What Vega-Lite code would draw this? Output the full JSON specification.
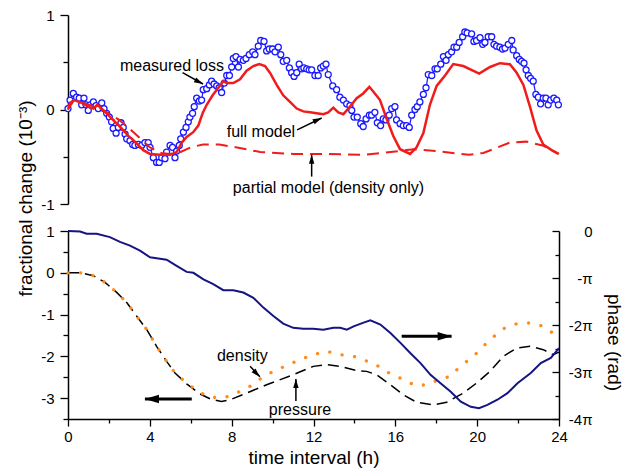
{
  "$schema": "https://vega.github.io/schema/vega-lite/v6.json",
  "width": 491,
  "height": 404,
  "autosize": {"type": "none"},
  "padding": {"left": 68, "top": 15, "right": 64, "bottom": 54},
  "config": {
    "font": "Liberation Sans",
    "view": {"stroke": null},
    "axis": {
      "grid": false,
      "domainColor": "black",
      "domainWidth": 1.5,
      "tickColor": "black",
      "tickWidth": 1.3,
      "labelColor": "black",
      "labelFont": "Liberation Sans",
      "labelFontSize": 15,
      "labelFlush": false,
      "labelOverlap": false,
      "titleFont": "Liberation Sans",
      "titleFontSize": 19,
      "titleFontWeight": "normal",
      "titleColor": "black"
    }
  },
  "datasets": {
    "measured": [
      {"h":0,"v":0.01},{"h":0.1,"v":0.10},{"h":0.26,"v":0.17},{"h":0.42,"v":0.13},{"h":0.55,"v":0.12},{"h":0.67,"v":0.05},{"h":0.78,"v":0.12},{"h":0.88,"v":0.05},{"h":0.99,"v":-0.01},{"h":1.1,"v":0.05},{"h":1.24,"v":0.08},{"h":1.37,"v":0.04},{"h":1.48,"v":0.01},{"h":1.65,"v":0.07},{"h":1.76,"v":0.01},{"h":1.89,"v":-0.04},{"h":2.02,"v":-0.08},{"h":2.13,"v":-0.13},{"h":2.21,"v":-0.2},{"h":2.35,"v":-0.25},{"h":2.46,"v":-0.19},{"h":2.59,"v":-0.14},{"h":2.7,"v":-0.19},{"h":2.79,"v":-0.26},{"h":2.87,"v":-0.31},{"h":3.03,"v":-0.33},{"h":3.16,"v":-0.37},{"h":3.27,"v":-0.38},{"h":3.44,"v":-0.37},{"h":3.6,"v":-0.38},{"h":3.76,"v":-0.35},{"h":3.92,"v":-0.35},{"h":4.01,"v":-0.40},{"h":4.17,"v":-0.51},{"h":4.33,"v":-0.56},{"h":4.46,"v":-0.56},{"h":4.58,"v":-0.51},{"h":4.74,"v":-0.52},{"h":4.82,"v":-0.45},{"h":4.99,"v":-0.38},{"h":5.11,"v":-0.40},{"h":5.23,"v":-0.51},{"h":5.31,"v":-0.44},{"h":5.44,"v":-0.38},{"h":5.51,"v":-0.31},{"h":5.64,"v":-0.24},{"h":5.77,"v":-0.19},{"h":5.88,"v":-0.13},{"h":5.96,"v":-0.08},{"h":6.09,"v":-0.04},{"h":6.17,"v":0.03},{"h":6.29,"v":0.12},{"h":6.42,"v":0.09},{"h":6.53,"v":0.10},{"h":6.61,"v":0.21},{"h":6.78,"v":0.22},{"h":6.91,"v":0.26},{"h":7.02,"v":0.30},{"h":7.14,"v":0.27},{"h":7.27,"v":0.25},{"h":7.39,"v":0.23},{"h":7.51,"v":0.18},{"h":7.64,"v":0.28},{"h":7.76,"v":0.36},{"h":7.89,"v":0.36},{"h":8.0,"v":0.45},{"h":8.08,"v":0.54},{"h":8.21,"v":0.56},{"h":8.33,"v":0.45},{"h":8.41,"v":0.53},{"h":8.57,"v":0.52},{"h":8.7,"v":0.54},{"h":8.86,"v":0.58},{"h":9.03,"v":0.61},{"h":9.14,"v":0.58},{"h":9.3,"v":0.67},{"h":9.42,"v":0.73},{"h":9.58,"v":0.72},{"h":9.71,"v":0.62},{"h":9.84,"v":0.64},{"h":10.0,"v":0.64},{"h":10.12,"v":0.61},{"h":10.28,"v":0.66},{"h":10.4,"v":0.58},{"h":10.52,"v":0.51},{"h":10.69,"v":0.52},{"h":10.82,"v":0.44},{"h":10.93,"v":0.39},{"h":11.05,"v":0.35},{"h":11.18,"v":0.39},{"h":11.3,"v":0.48},{"h":11.42,"v":0.43},{"h":11.53,"v":0.44},{"h":11.67,"v":0.43},{"h":11.79,"v":0.42},{"h":11.91,"v":0.42},{"h":12.07,"v":0.36},{"h":12.23,"v":0.36},{"h":12.35,"v":0.44},{"h":12.48,"v":0.46},{"h":12.61,"v":0.48},{"h":12.72,"v":0.37},{"h":12.94,"v":0.25},{"h":13.13,"v":0.21},{"h":13.29,"v":0.13},{"h":13.46,"v":0.10},{"h":13.62,"v":0.06},{"h":13.78,"v":0.04},{"h":13.87,"v":-0.01},{"h":13.98,"v":-0.08},{"h":14.14,"v":-0.08},{"h":14.31,"v":-0.15},{"h":14.43,"v":-0.18},{"h":14.57,"v":-0.10},{"h":14.73,"v":-0.06},{"h":14.84,"v":-0.06},{"h":15.0,"v":-0.03},{"h":15.12,"v":-0.14},{"h":15.28,"v":-0.17},{"h":15.41,"v":-0.10},{"h":15.54,"v":-0.11},{"h":15.7,"v":-0.06},{"h":15.82,"v":0.01},{"h":15.98,"v":0.03},{"h":16.06,"v":-0.11},{"h":16.23,"v":-0.15},{"h":16.39,"v":-0.17},{"h":16.55,"v":-0.17},{"h":16.68,"v":-0.19},{"h":16.8,"v":-0.06},{"h":16.96,"v":0.0},{"h":17.07,"v":0.03},{"h":17.2,"v":0.08},{"h":17.37,"v":0.16},{"h":17.5,"v":0.23},{"h":17.61,"v":0.37},{"h":17.78,"v":0.36},{"h":17.94,"v":0.43},{"h":18.05,"v":0.43},{"h":18.22,"v":0.48},{"h":18.35,"v":0.56},{"h":18.48,"v":0.52},{"h":18.59,"v":0.58},{"h":18.75,"v":0.61},{"h":18.87,"v":0.66},{"h":19.0,"v":0.66},{"h":19.12,"v":0.71},{"h":19.29,"v":0.77},{"h":19.4,"v":0.82},{"h":19.51,"v":0.81},{"h":19.73,"v":0.80},{"h":19.84,"v":0.72},{"h":19.97,"v":0.73},{"h":20.14,"v":0.76},{"h":20.27,"v":0.69},{"h":20.38,"v":0.71},{"h":20.54,"v":0.77},{"h":20.71,"v":0.77},{"h":20.82,"v":0.69},{"h":20.95,"v":0.67},{"h":21.11,"v":0.66},{"h":21.24,"v":0.64},{"h":21.36,"v":0.65},{"h":21.52,"v":0.69},{"h":21.69,"v":0.73},{"h":21.76,"v":0.63},{"h":21.93,"v":0.57},{"h":22.06,"v":0.53},{"h":22.17,"v":0.51},{"h":22.29,"v":0.49},{"h":22.39,"v":0.42},{"h":22.5,"v":0.36},{"h":22.61,"v":0.33},{"h":22.74,"v":0.30},{"h":22.87,"v":0.16},{"h":22.99,"v":0.13},{"h":23.1,"v":0.06},{"h":23.23,"v":0.12},{"h":23.36,"v":0.12},{"h":23.47,"v":0.05},{"h":23.59,"v":0.10},{"h":23.75,"v":0.12},{"h":23.89,"v":0.10},{"h":23.97,"v":0.05}
    ],
    "full": [
      {"h":0,"v":0.0},{"h":0.1,"v":0.07},{"h":0.3,"v":0.10},{"h":0.67,"v":0.07},{"h":0.99,"v":0.03},{"h":1.24,"v":0.01},{"h":1.43,"v":0.05},{"h":1.65,"v":0.01},{"h":1.97,"v":-0.06},{"h":2.3,"v":-0.13},{"h":2.62,"v":-0.20},{"h":2.95,"v":-0.28},{"h":3.27,"v":-0.34},{"h":3.68,"v":-0.43},{"h":4.01,"v":-0.47},{"h":4.5,"v":-0.48},{"h":4.99,"v":-0.48},{"h":5.31,"v":-0.45},{"h":5.56,"v":-0.35},{"h":5.8,"v":-0.29},{"h":6.12,"v":-0.24},{"h":6.37,"v":-0.17},{"h":6.58,"v":-0.04},{"h":6.78,"v":0.05},{"h":7.07,"v":0.15},{"h":7.35,"v":0.23},{"h":7.59,"v":0.30},{"h":7.76,"v":0.28},{"h":8.08,"v":0.28},{"h":8.41,"v":0.32},{"h":8.73,"v":0.41},{"h":9.06,"v":0.46},{"h":9.35,"v":0.48},{"h":9.63,"v":0.46},{"h":9.87,"v":0.39},{"h":10.2,"v":0.26},{"h":10.52,"v":0.15},{"h":10.85,"v":0.08},{"h":11.18,"v":0.01},{"h":11.5,"v":-0.02},{"h":11.83,"v":-0.03},{"h":12.15,"v":-0.04},{"h":12.48,"v":-0.05},{"h":12.72,"v":-0.03},{"h":12.97,"v":0.02},{"h":13.21,"v":-0.03},{"h":13.46,"v":-0.05},{"h":13.78,"v":0.03},{"h":14.11,"v":0.12},{"h":14.43,"v":0.17},{"h":14.73,"v":0.24},{"h":14.92,"v":0.19},{"h":15.25,"v":0.10},{"h":15.58,"v":-0.10},{"h":15.9,"v":-0.28},{"h":16.23,"v":-0.42},{"h":16.72,"v":-0.47},{"h":17.04,"v":-0.40},{"h":17.37,"v":-0.25},{"h":17.69,"v":0.05},{"h":18.02,"v":0.25},{"h":18.43,"v":0.36},{"h":18.83,"v":0.48},{"h":19.32,"v":0.46},{"h":20.1,"v":0.38},{"h":20.63,"v":0.45},{"h":21.11,"v":0.49},{"h":21.6,"v":0.48},{"h":21.93,"v":0.39},{"h":22.26,"v":0.26},{"h":22.58,"v":0.03},{"h":22.9,"v":-0.22},{"h":23.23,"v":-0.37},{"h":23.64,"v":-0.43},{"h":23.97,"v":-0.47}
    ],
    "partial": [
      {"h":0,"v":0.0},{"h":0.3,"v":0.10},{"h":1.0,"v":0.05},{"h":1.5,"v":0.02},{"h":2.0,"v":-0.04},{"h":2.5,"v":-0.11},{"h":3.0,"v":-0.20},{"h":3.5,"v":-0.30},{"h":4.0,"v":-0.40},{"h":4.5,"v":-0.46},{"h":5.0,"v":-0.47},{"h":5.5,"v":-0.45},{"h":6.0,"v":-0.40},{"h":6.6,"v":-0.37},{"h":7.4,"v":-0.37},{"h":8.2,"v":-0.40},{"h":9.4,"v":-0.45},{"h":11.0,"v":-0.47},{"h":12.6,"v":-0.47},{"h":14.4,"v":-0.48},{"h":15.4,"v":-0.46},{"h":16.9,"v":-0.42},{"h":18.0,"v":-0.44},{"h":19.6,"v":-0.48},{"h":20.3,"v":-0.46},{"h":21.6,"v":-0.35},{"h":22.4,"v":-0.34},{"h":23.2,"v":-0.38},{"h":24.0,"v":-0.47}
    ],
    "density": [
      {"h":0,"v":0},{"h":0.59,"v":0},{"h":1.24,"v":-0.07},{"h":1.81,"v":-0.23},{"h":2.38,"v":-0.47},{"h":2.87,"v":-0.71},{"h":3.36,"v":-1.04},{"h":3.85,"v":-1.36},{"h":4.33,"v":-1.76},{"h":4.82,"v":-2.12},{"h":5.23,"v":-2.40},{"h":5.8,"v":-2.64},{"h":6.45,"v":-2.87},{"h":7.02,"v":-2.98},{"h":7.59,"v":-3.0},{"h":8.24,"v":-2.88},{"h":8.89,"v":-2.72},{"h":9.46,"v":-2.52},{"h":10.03,"v":-2.36},{"h":10.69,"v":-2.22},{"h":11.34,"v":-2.08},{"h":11.99,"v":-1.96},{"h":12.64,"v":-1.88},{"h":13.29,"v":-1.96},{"h":13.96,"v":-2.0},{"h":14.45,"v":-2.08},{"h":15.19,"v":-2.24},{"h":15.76,"v":-2.42},{"h":16.33,"v":-2.54},{"h":16.98,"v":-2.70},{"h":17.55,"v":-2.68},{"h":18.11,"v":-2.56},{"h":18.68,"v":-2.48},{"h":19.17,"v":-2.24},{"h":19.82,"v":-2.0},{"h":20.63,"v":-1.60},{"h":21.28,"v":-1.34},{"h":21.93,"v":-1.22},{"h":22.58,"v":-1.20},{"h":23.23,"v":-1.28},{"h":24,"v":-1.55}
    ],
    "pressure": [
      {"h":0,"v":0},{"h":0.59,"v":0},{"h":1.24,"v":-0.07},{"h":1.81,"v":-0.23},{"h":2.38,"v":-0.47},{"h":2.87,"v":-0.71},{"h":3.36,"v":-1.04},{"h":3.85,"v":-1.36},{"h":4.33,"v":-1.76},{"h":4.82,"v":-2.12},{"h":5.23,"v":-2.40},{"h":5.8,"v":-2.66},{"h":6.45,"v":-2.90},{"h":7.0,"v":-3.03},{"h":7.5,"v":-3.08},{"h":7.92,"v":-3.04},{"h":8.73,"v":-2.88},{"h":9.71,"v":-2.68},{"h":11.01,"v":-2.44},{"h":11.99,"v":-2.24},{"h":12.64,"v":-2.20},{"h":13.29,"v":-2.24},{"h":14.11,"v":-2.34},{"h":14.6,"v":-2.36},{"h":15.09,"v":-2.44},{"h":15.76,"v":-2.68},{"h":16.39,"v":-2.92},{"h":17.04,"v":-3.10},{"h":17.86,"v":-3.16},{"h":18.51,"v":-3.10},{"h":19.32,"v":-2.88},{"h":19.97,"v":-2.64},{"h":20.63,"v":-2.36},{"h":21.28,"v":-2.0},{"h":21.93,"v":-1.80},{"h":22.58,"v":-1.76},{"h":23.23,"v":-1.84},{"h":23.72,"v":-1.96},{"h":24,"v":-1.90}
    ],
    "phase": [
      {"h":0,"p":0},{"h":0.59,"p":-0.031},{"h":0.91,"p":-0.188},{"h":1.4,"p":-0.188},{"h":2.05,"p":-0.408},{"h":2.54,"p":-0.723},{"h":3.03,"p":-0.974},{"h":3.52,"p":-1.319},{"h":4.01,"p":-1.759},{"h":4.33,"p":-1.822},{"h":4.82,"p":-1.916},{"h":5.31,"p":-2.325},{"h":5.8,"p":-2.733},{"h":6.13,"p":-2.796},{"h":6.62,"p":-3.236},{"h":7.1,"p":-3.550},{"h":7.59,"p":-3.958},{"h":8.08,"p":-3.958},{"h":8.57,"p":-4.115},{"h":9.06,"p":-4.461},{"h":9.55,"p":-5.121},{"h":10.04,"p":-5.686},{"h":10.52,"p":-6.189},{"h":11.01,"p":-6.472},{"h":11.5,"p":-6.535},{"h":11.99,"p":-6.535},{"h":12.48,"p":-6.597},{"h":12.97,"p":-6.472},{"h":13.31,"p":-6.472},{"h":13.63,"p":-6.597},{"h":13.96,"p":-6.377},{"h":14.45,"p":-6.126},{"h":14.78,"p":-5.969},{"h":15.27,"p":-6.252},{"h":15.76,"p":-6.817},{"h":16.25,"p":-7.477},{"h":16.74,"p":-8.168},{"h":17.23,"p":-8.828},{"h":17.72,"p":-9.613},{"h":18.21,"p":-10.179},{"h":18.71,"p":-10.744},{"h":19.2,"p":-11.404},{"h":19.69,"p":-11.750},{"h":20.09,"p":-11.844},{"h":20.5,"p":-11.624},{"h":20.99,"p":-11.278},{"h":21.48,"p":-10.838},{"h":21.97,"p":-10.179},{"h":22.62,"p":-9.488},{"h":23.11,"p":-8.828},{"h":23.6,"p":-8.482},{"h":24.0,"p":-7.823}
    ],
    "labelsTop": [
      {"h":5.08,"v":0.46,"label":"measured loss"},
      {"h":9.43,"v":-0.24,"label":"full model"},
      {"h":12.73,"v":-0.83,"label":"partial model (density only)"}
    ],
    "arrowsTop": [
      {"id":"m","h":5.6,"v":0.39,"h2":6.6,"v2":0.27},
      {"id":"f","h":11.2,"v":-0.215,"h2":12.4,"v2":-0.09},
      {"id":"p","h":11.91,"v":-0.71,"h2":11.91,"v2":-0.48}
    ],
    "labelsBottom": [
      {"h":8.52,"v":-2.0,"label":"density"},
      {"h":11.34,"v":-3.28,"label":"pressure"}
    ],
    "arrowsBottom": [
      {"id":"d","h":8.9,"v":-2.24,"h2":9.38,"v2":-2.49},
      {"id":"pr","h":11.14,"v":-3.07,"h2":11.14,"v2":-2.54},
      {"id":"L","h":6.05,"v":-3.02,"h2":3.76,"v2":-3.02},
      {"id":"R","h":16.31,"v":-1.52,"h2":18.75,"v2":-1.52}
    ]
  },
  "encoding": {
    "x": {
      "field": "h",
      "type": "quantitative",
      "scale": {"domain": [0, 24], "nice": false, "zero": false},
      "axis": {
        "values": [0,2,4,6,8,10,12,14,16,18,20,22,24],
        "labelExpr": "datum.value % 4 == 0 ? datum.label : ''",
        "tickSize": {"condition": {"test": "datum.value % 4 == 0", "value": 7}, "value": 4},
        "labelPadding": 3,
        "title": "time interval (h)",
        "titlePadding": 4
      }
    }
  },
  "layer": [
    {
      "encoding": {
        "y": {
          "field": "v",
          "type": "quantitative",
          "scale": {"domain": [-1, 1], "range": [189, 0], "nice": false, "zero": false},
          "axis": {
            "orient": "left",
            "values": [-1,-0.5,0,0.5,1],
            "labelExpr": "datum.value % 1 == 0 ? datum.value + '' : ''",
            "tickSize": {"condition": {"test": "datum.value % 1 == 0", "value": 8}, "value": 5},
            "labelPadding": 6,
            "title": null
          }
        }
      },
      "layer": [
        {"data": {"name": "measured"}, "mark": {"type": "line", "color": "#1a1aff", "strokeWidth": 1.2}},
        {"data": {"name": "measured"}, "mark": {"type": "point", "shape": "circle", "filled": true, "fill": "white", "stroke": "#1a1aff", "strokeWidth": 1.3, "size": 36, "opacity": 1}},
        {"data": {"name": "partial"}, "mark": {"type": "line", "color": "#f01c1c", "strokeWidth": 2, "strokeDash": [12, 7]}},
        {"data": {"name": "full"}, "mark": {"type": "line", "color": "#f01c1c", "strokeWidth": 2.5}},
        {"data": {"name": "labelsTop"}, "mark": {"type": "text", "fontSize": 16, "font": "Liberation Sans", "align": "center", "baseline": "middle", "color": "black"}, "encoding": {"text": {"field": "label"}}},
        {"data": {"name": "arrowsTop"}, "mark": {"type": "rule", "color": "black", "strokeWidth": 1.5}, "encoding": {"x2": {"field": "h2"}, "y2": {"field": "v2"}}},
        {"data": {"name": "arrowsTop"}, "transform": [{"filter": "datum.id == 'm'"}], "mark": {"type": "point", "shape": "M0,0L0.6,2L-0.6,2Z", "filled": true, "color": "black", "opacity": 1, "size": 81, "angle": 116.6}, "encoding": {"x": {"field": "h2", "type": "quantitative"}, "y": {"field": "v2", "type": "quantitative"}}},
        {"data": {"name": "arrowsTop"}, "transform": [{"filter": "datum.id == 'f'"}], "mark": {"type": "point", "shape": "M0,0L0.6,2L-0.6,2Z", "filled": true, "color": "black", "opacity": 1, "size": 81, "angle": 65}, "encoding": {"x": {"field": "h2", "type": "quantitative"}, "y": {"field": "v2", "type": "quantitative"}}},
        {"data": {"name": "arrowsTop"}, "transform": [{"filter": "datum.id == 'p'"}], "mark": {"type": "point", "shape": "M0,0L0.6,2L-0.6,2Z", "filled": true, "color": "black", "opacity": 1, "size": 81, "angle": 0}, "encoding": {"x": {"field": "h2", "type": "quantitative"}, "y": {"field": "v2", "type": "quantitative"}}}
      ]
    },
    {
      "encoding": {
        "y": {
          "field": "v",
          "type": "quantitative",
          "scale": {"domain": [-3.5, 1], "range": [404, 216], "nice": false, "zero": false},
          "axis": {
            "orient": "left",
            "values": [-3.5,-3,-2.5,-2,-1.5,-1,-0.5,0,0.5,1],
            "labelExpr": "datum.value % 1 == 0 ? datum.value + '' : ''",
            "tickSize": {"condition": {"test": "datum.value % 1 == 0", "value": 8}, "value": 5},
            "labelPadding": 6,
            "title": "fractional change (10⁻³)",
            "titleY": 183,
            "titlePadding": 5
          }
        }
      },
      "layer": [
        {"data": {"name": "pressure"}, "mark": {"type": "line", "color": "black", "strokeWidth": 1.5, "strokeDash": [11, 6]}},
        {"data": {"name": "density"}, "mark": {"type": "line", "color": "#ff8c1a", "strokeWidth": 3.3, "strokeCap": "round", "strokeDash": [0.1, 12.5]}},
        {"data": {"name": "labelsBottom"}, "mark": {"type": "text", "fontSize": 16, "font": "Liberation Sans", "align": "center", "baseline": "middle", "color": "black"}, "encoding": {"text": {"field": "label"}}},
        {"data": {"name": "arrowsBottom"}, "transform": [{"filter": "datum.id == 'd' || datum.id == 'pr'"}], "mark": {"type": "rule", "color": "black", "strokeWidth": 1.5}, "encoding": {"x2": {"field": "h2"}, "y2": {"field": "v2"}}},
        {"data": {"name": "arrowsBottom"}, "transform": [{"filter": "datum.id == 'L' || datum.id == 'R'"}], "mark": {"type": "rule", "color": "black", "strokeWidth": 3}, "encoding": {"x2": {"field": "h2"}, "y2": {"field": "v2"}}},
        {"data": {"name": "arrowsBottom"}, "transform": [{"filter": "datum.id == 'd'"}], "mark": {"type": "point", "shape": "M0,0L0.6,2L-0.6,2Z", "filled": true, "color": "black", "opacity": 1, "size": 81, "angle": 135}, "encoding": {"x": {"field": "h2", "type": "quantitative"}, "y": {"field": "v2", "type": "quantitative"}}},
        {"data": {"name": "arrowsBottom"}, "transform": [{"filter": "datum.id == 'pr'"}], "mark": {"type": "point", "shape": "M0,0L0.6,2L-0.6,2Z", "filled": true, "color": "black", "opacity": 1, "size": 81, "angle": 0}, "encoding": {"x": {"field": "h2", "type": "quantitative"}, "y": {"field": "v2", "type": "quantitative"}}},
        {"data": {"name": "arrowsBottom"}, "transform": [{"filter": "datum.id == 'L'"}], "mark": {"type": "point", "shape": "M0,0L0.6,2L-0.6,2Z", "filled": true, "color": "black", "opacity": 1, "size": 196, "angle": 270}, "encoding": {"x": {"field": "h2", "type": "quantitative"}, "y": {"field": "v2", "type": "quantitative"}}},
        {"data": {"name": "arrowsBottom"}, "transform": [{"filter": "datum.id == 'R'"}], "mark": {"type": "point", "shape": "M0,0L0.6,2L-0.6,2Z", "filled": true, "color": "black", "opacity": 1, "size": 196, "angle": 90}, "encoding": {"x": {"field": "h2", "type": "quantitative"}, "y": {"field": "v2", "type": "quantitative"}}}
      ]
    },
    {
      "data": {"name": "phase"},
      "mark": {"type": "line", "color": "#141482", "strokeWidth": 2},
      "encoding": {
        "y": {
          "field": "p",
          "type": "quantitative",
          "scale": {"domain": [-12.5664, 0], "range": [404, 216], "nice": false, "zero": false},
          "axis": {
            "orient": "right",
            "values": [0,-1.5708,-3.1416,-4.7124,-6.2832,-7.854,-9.4248,-10.9956,-12.5664],
            "labelExpr": "abs(datum.value/PI - round(datum.value/PI)) > 0.1 ? '' : (round(datum.value/PI) == 0 ? '0' : (round(datum.value/PI) == -1 ? '-π' : round(datum.value/PI) + 'π'))",
            "tickSize": {"condition": {"test": "abs(datum.value/PI - round(datum.value/PI)) < 0.1", "value": -7}, "value": -4},
            "labelAlign": "right",
            "labelPadding": 40,
            "title": "phase (rad)",
            "titleY": 327,
            "titlePadding": 8
          }
        }
      }
    }
  ],
  "resolve": {"scale": {"y": "independent"}, "axis": {"y": "independent"}}
}
